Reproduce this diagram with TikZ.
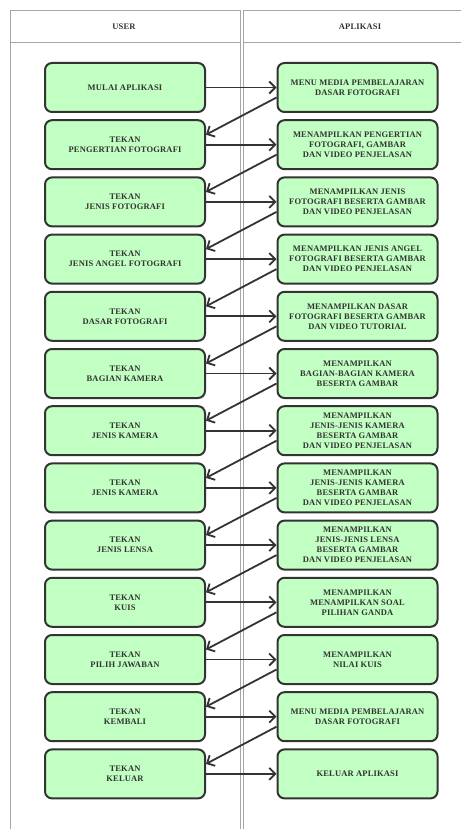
\documentclass[tikz,border=0pt]{standalone}
\usepackage{fontspec}
\setmainfont{Liberation Serif}
\newfontfamily\boxfont[LetterSpace=2]{Liberation Serif}
\usetikzlibrary{arrows.meta}
\definecolor{boxfill}{HTML}{C2FFC2}
\definecolor{boxline}{HTML}{333333}
\definecolor{laneline}{HTML}{A6A6A6}
\tikzset{
  act/.style={draw=boxline, line width=2pt, fill=boxfill, rounded corners=7pt,
    minimum width=160pt, minimum height=49pt, align=center, text=boxline,
    font=\boxfont\fontsize{8.5}{10}\selectfont\bfseries},
  flow/.style={draw=boxline, line width=1.8pt, -{Straight Barb[length=6pt,width=12pt]}},
  lane/.style={draw=laneline, line width=1pt},
  lanetitle/.style={text=boxline, font=\boxfont\fontsize{8.5}{9}\selectfont\bfseries}
}
\begin{document}
\begin{tikzpicture}[x=1pt,y=-1pt]
    \useasboundingbox (0,0) rectangle (460,829);
    % swimlanes
    \draw[lane] (10.5,10.5) rectangle (240,835);
    \draw[lane] (243,10.5) rectangle (477,835);
    \draw[lane] (10.5,43) -- (240,43);
    \draw[lane] (243,43) -- (477,43);
    \node[lanetitle] (user) at (124,27) {USER};
    \node[lanetitle] (app) at (360,27) {APLIKASI};
    % user side
    \node[act] (l1) at (125,87.5) {MULAI APLIKASI};
    \node[act] (l2) at (125,144.7) {TEKAN\\PENGERTIAN FOTOGRAFI};
    \node[act] (l3) at (125,201.9) {TEKAN\\JENIS FOTOGRAFI};
    \node[act] (l4) at (125,259.1) {TEKAN\\JENIS ANGEL FOTOGRAFI};
    \node[act] (l5) at (125,316.3) {TEKAN\\DASAR FOTOGRAFI};
    \node[act] (l6) at (125,373.5) {TEKAN\\BAGIAN KAMERA};
    \node[act] (l7) at (125,430.7) {TEKAN\\JENIS KAMERA};
    \node[act] (l8) at (125,487.9) {TEKAN\\JENIS KAMERA};
    \node[act] (l9) at (125,545.1) {TEKAN\\JENIS LENSA};
    \node[act] (l10) at (125,602.3) {TEKAN\\KUIS};
    \node[act] (l11) at (125,659.5) {TEKAN\\PILIH JAWABAN};
    \node[act] (l12) at (125,716.7) {TEKAN\\KEMBALI};
    \node[act] (l13) at (125,773.9) {TEKAN\\KELUAR};
    % application side
    \node[act] (r1) at (357.5,87.5) {MENU MEDIA PEMBELAJARAN\\DASAR FOTOGRAFI};
    \node[act] (r2) at (357.5,144.7) {MENAMPILKAN PENGERTIAN\\FOTOGRAFI, GAMBAR\\DAN VIDEO PENJELASAN};
    \node[act] (r3) at (357.5,201.9) {MENAMPILKAN JENIS\\FOTOGRAFI BESERTA GAMBAR\\DAN VIDEO PENJELASAN};
    \node[act] (r4) at (357.5,259.1) {MENAMPILKAN JENIS ANGEL\\FOTOGRAFI BESERTA GAMBAR\\DAN VIDEO PENJELASAN};
    \node[act] (r5) at (357.5,316.3) {MENAMPILKAN DASAR\\FOTOGRAFI BESERTA GAMBAR\\DAN VIDEO TUTORIAL};
    \node[act] (r6) at (357.5,373.5) {MENAMPILKAN\\BAGIAN-BAGIAN KAMERA\\BESERTA GAMBAR};
    \node[act] (r7) at (357.5,430.7) {MENAMPILKAN\\JENIS-JENIS KAMERA\\BESERTA GAMBAR\\DAN VIDEO PENJELASAN};
    \node[act] (r8) at (357.5,487.9) {MENAMPILKAN\\JENIS-JENIS KAMERA\\BESERTA GAMBAR\\DAN VIDEO PENJELASAN};
    \node[act] (r9) at (357.5,545.1) {MENAMPILKAN\\JENIS-JENIS LENSA\\BESERTA GAMBAR\\DAN VIDEO PENJELASAN};
    \node[act] (r10) at (357.5,602.3) {MENAMPILKAN\\MENAMPILKAN SOAL\\PILIHAN GANDA};
    \node[act] (r11) at (357.5,659.5) {MENAMPILKAN\\NILAI KUIS};
    \node[act] (r12) at (357.5,716.7) {MENU MEDIA PEMBELAJARAN\\DASAR FOTOGRAFI};
    \node[act] (r13) at (357.5,773.9) {KELUAR APLIKASI};
    % requests
    \draw[flow] (l1.east) -- (r1.west);
    \draw[flow] (l2.east) -- (r2.west);
    \draw[flow] (l3.east) -- (r3.west);
    \draw[flow] (l4.east) -- (r4.west);
    \draw[flow] (l5.east) -- (r5.west);
    \draw[flow] (l6.east) -- (r6.west);
    \draw[flow] (l7.east) -- (r7.west);
    \draw[flow] (l8.east) -- (r8.west);
    \draw[flow] (l9.east) -- (r9.west);
    \draw[flow] (l10.east) -- (r10.west);
    \draw[flow] (l11.east) -- (r11.west);
    \draw[flow] (l12.east) -- (r12.west);
    \draw[flow] (l13.east) -- (r13.west);
    % responses
    \draw[flow] ([yshift=-10pt]r1.west) -- ([yshift=10pt]l2.east);
    \draw[flow] ([yshift=-10pt]r2.west) -- ([yshift=10pt]l3.east);
    \draw[flow] ([yshift=-10pt]r3.west) -- ([yshift=10pt]l4.east);
    \draw[flow] ([yshift=-10pt]r4.west) -- ([yshift=10pt]l5.east);
    \draw[flow] ([yshift=-10pt]r5.west) -- ([yshift=10pt]l6.east);
    \draw[flow] ([yshift=-10pt]r6.west) -- ([yshift=10pt]l7.east);
    \draw[flow] ([yshift=-10pt]r7.west) -- ([yshift=10pt]l8.east);
    \draw[flow] ([yshift=-10pt]r8.west) -- ([yshift=10pt]l9.east);
    \draw[flow] ([yshift=-10pt]r9.west) -- ([yshift=10pt]l10.east);
    \draw[flow] ([yshift=-10pt]r10.west) -- ([yshift=10pt]l11.east);
    \draw[flow] ([yshift=-10pt]r11.west) -- ([yshift=10pt]l12.east);
    \draw[flow] ([yshift=-10pt]r12.west) -- ([yshift=10pt]l13.east);
\end{tikzpicture}
\end{document}
